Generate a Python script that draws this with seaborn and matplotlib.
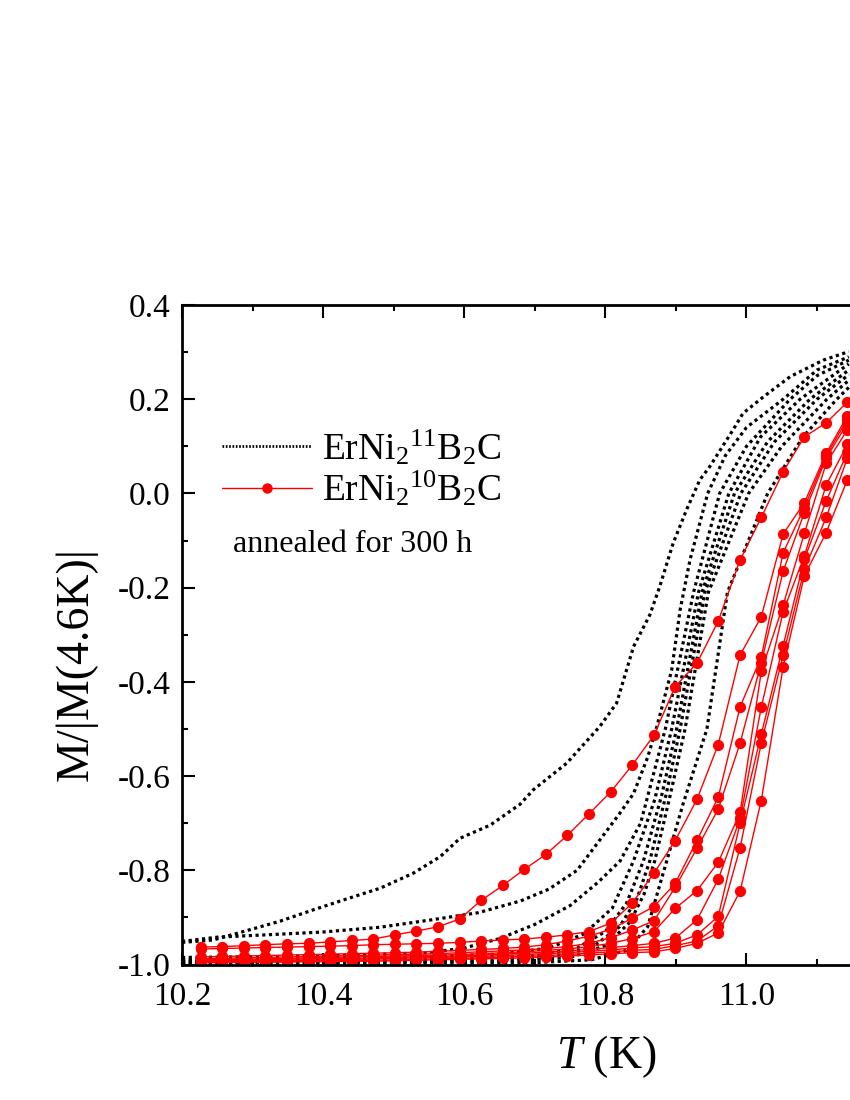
import numpy as np
import pandas as pd
import seaborn as sns
import matplotlib.pyplot as plt
from matplotlib.lines import Line2D
from matplotlib.ticker import MultipleLocator, FuncFormatter

sns.set_theme(style="white")
plt.rcParams['font.family'] = ['Liberation Serif', 'DejaVu Serif']
plt.rcParams['mathtext.fontset'] = 'custom'
plt.rcParams['mathtext.rm'] = 'Liberation Serif'
plt.rcParams['mathtext.it'] = 'Liberation Serif:italic'
plt.rcParams['mathtext.default'] = 'regular'
plt.rcParams['axes.unicode_minus'] = False
for k in ['text.color', 'axes.labelcolor', 'xtick.color', 'ytick.color', 'axes.edgecolor']:
    plt.rcParams[k] = 'black'

# ErNi2 10B2C, annealed 300 h (red, with symbols) - shared temperature grid
T_red = [10.227, 10.257, 10.288, 10.318, 10.349, 10.380, 10.410, 10.441, 10.471, 10.502,
         10.532, 10.563, 10.594, 10.624, 10.655, 10.685, 10.716, 10.746, 10.777, 10.808,
         10.838, 10.869, 10.899, 10.930, 10.960, 10.991, 11.021, 11.052, 11.082, 11.113, 11.143]

R1 = [-0.963, -0.962, -0.960, -0.958, -0.956, -0.955, -0.952, -0.949, -0.946, -0.937,
      -0.929, -0.920, -0.903, -0.864, -0.832, -0.798, -0.766, -0.726, -0.680, -0.633,
      -0.577, -0.513, -0.410, -0.360, -0.271, -0.141, -0.051, 0.046, 0.120, 0.150, 0.194]
R2 = [-0.967, -0.966, -0.965, -0.964, -0.963, -0.962, -0.961, -0.960, -0.958, -0.957,
      -0.956, -0.955, -0.953, -0.950, -0.948, -0.946, -0.942, -0.937, -0.930, -0.912,
      -0.870, -0.806, -0.737, -0.649, -0.533, -0.343, -0.262, -0.086, -0.020, 0.085, 0.165]
R3 = [-0.984, -0.983, -0.982, -0.981, -0.980, -0.979, -0.978, -0.977, -0.976, -0.975,
      -0.974, -0.972, -0.970, -0.968, -0.966, -0.963, -0.958, -0.950, -0.940, -0.925,
      -0.902, -0.877, -0.828, -0.736, -0.645, -0.453, -0.347, -0.126, -0.030, 0.080, 0.158]
R4 = [-0.988, -0.987, -0.986, -0.985, -0.984, -0.983, -0.982, -0.981, -0.980, -0.979,
      -0.978, -0.977, -0.975, -0.973, -0.971, -0.969, -0.966, -0.962, -0.955, -0.943,
      -0.927, -0.907, -0.836, -0.753, -0.670, -0.530, -0.359, -0.165, -0.041, 0.075, 0.149]
R5 = [-0.990, -0.989, -0.989, -0.988, -0.987, -0.986, -0.985, -0.984, -0.983, -0.982,
      -0.981, -0.980, -0.979, -0.977, -0.975, -0.973, -0.970, -0.967, -0.962, -0.955,
      -0.945, -0.930, -0.881, -0.843, -0.783, -0.677, -0.378, -0.237, -0.085, 0.064, 0.135]
R6 = [-0.992, -0.991, -0.991, -0.990, -0.989, -0.988, -0.988, -0.987, -0.986, -0.985,
      -0.984, -0.983, -0.982, -0.980, -0.978, -0.976, -0.974, -0.971, -0.968, -0.964,
      -0.960, -0.955, -0.944, -0.905, -0.819, -0.690, -0.454, -0.251, -0.133, 0.018, 0.104]
R7 = [-0.994, -0.993, -0.993, -0.992, -0.991, -0.991, -0.990, -0.989, -0.988, -0.987,
      -0.986, -0.985, -0.984, -0.983, -0.981, -0.979, -0.977, -0.975, -0.972, -0.969,
      -0.965, -0.962, -0.955, -0.937, -0.898, -0.700, -0.511, -0.323, -0.140, -0.016, 0.087]
R8 = [-0.995, -0.995, -0.994, -0.994, -0.993, -0.993, -0.992, -0.991, -0.991, -0.990,
      -0.989, -0.988, -0.987, -0.986, -0.984, -0.983, -0.981, -0.979, -0.976, -0.973,
      -0.970, -0.968, -0.960, -0.950, -0.918, -0.752, -0.530, -0.343, -0.161, -0.051, 0.075]
R9 = [-0.996, -0.996, -0.995, -0.995, -0.995, -0.994, -0.994, -0.993, -0.993, -0.992,
      -0.991, -0.990, -0.989, -0.988, -0.987, -0.986, -0.984, -0.982, -0.980, -0.977,
      -0.975, -0.973, -0.966, -0.955, -0.933, -0.844, -0.652, -0.368, -0.175, -0.083, 0.029]
red_runs = [R1, R2, R3, R4, R5, R6, R7, R8, R9]

# ErNi2 11B2C (black dotted)
K1_T = [10.200, 10.244, 10.292, 10.339, 10.386, 10.433, 10.481, 10.528, 10.566, 10.594,
        10.637, 10.679, 10.698, 10.745, 10.792, 10.816, 10.840, 10.863, 10.877, 10.896,
        10.915, 10.934, 10.948, 10.981, 10.995, 11.024, 11.062, 11.109, 11.145]
K1_M = [-0.953, -0.948, -0.928, -0.908, -0.884, -0.861, -0.838, -0.806, -0.771, -0.732,
        -0.704, -0.660, -0.629, -0.573, -0.495, -0.445, -0.325, -0.258, -0.198, -0.106,
        -0.035, 0.029, 0.057, 0.135, 0.170, 0.205, 0.248, 0.283, 0.301]
K2_T = [10.200, 10.250, 10.320, 10.400, 10.480, 10.550, 10.620, 10.680, 10.720, 10.760,
        10.792, 10.820, 10.840, 10.860, 10.873, 10.894, 10.906, 10.920, 10.945, 10.970,
        11.000, 11.052, 11.100, 11.145]
K2_M = [-0.951, -0.942, -0.937, -0.931, -0.921, -0.906, -0.890, -0.865, -0.840, -0.800,
        -0.736, -0.680, -0.637, -0.560, -0.495, -0.375, -0.247, -0.141, 0.000, 0.080,
        0.140, 0.200, 0.262, 0.290]
K3_T = [10.200, 10.350, 10.450, 10.550, 10.600, 10.650, 10.700, 10.750, 10.790, 10.821,
        10.850, 10.885, 10.925, 10.962, 11.000, 11.062, 11.100, 11.145]
K3_M = [-0.985, -0.983, -0.980, -0.975, -0.965, -0.945, -0.915, -0.875, -0.825, -0.780,
        -0.700, -0.500, -0.210, 0.000, 0.100, 0.200, 0.250, 0.283]
K4_T = [10.200, 10.500, 10.650, 10.720, 10.770, 10.810, 10.840, 10.870, 10.894, 10.932,
        10.975, 11.020, 11.076, 11.145]
K4_M = [-0.990, -0.986, -0.978, -0.965, -0.935, -0.880, -0.780, -0.650, -0.500, -0.210,
        0.000, 0.120, 0.200, 0.275]
K5_T = [10.200, 10.550, 10.700, 10.760, 10.800, 10.830, 10.854, 10.880, 10.901, 10.937,
        10.983, 11.030, 11.090, 11.145]
K5_M = [-0.993, -0.990, -0.982, -0.965, -0.930, -0.870, -0.780, -0.640, -0.500, -0.210,
        0.000, 0.110, 0.200, 0.262]
K6_T = [10.200, 10.600, 10.720, 10.780, 10.820, 10.845, 10.863, 10.886, 10.906, 10.941,
        10.992, 11.040, 11.100, 11.145]
K6_M = [-0.995, -0.992, -0.985, -0.965, -0.920, -0.860, -0.780, -0.640, -0.500, -0.210,
        0.000, 0.110, 0.200, 0.252]
K7_T = [10.200, 10.650, 10.750, 10.800, 10.835, 10.855, 10.870, 10.892, 10.913, 10.946,
        11.003, 11.050, 11.114, 11.145]
K7_M = [-0.997, -0.994, -0.985, -0.960, -0.910, -0.850, -0.780, -0.640, -0.500, -0.210,
        0.000, 0.100, 0.200, 0.240]
K8_T = [10.200, 10.700, 10.780, 10.830, 10.860, 10.887, 10.910, 10.944, 10.973, 11.030,
        11.080, 11.128, 11.145]
K8_M = [-0.999, -0.996, -0.990, -0.970, -0.920, -0.780, -0.660, -0.500, -0.210, 0.000,
        0.120, 0.200, 0.225]
black_runs = [(K1_T, K1_M), (K2_T, K2_M), (K3_T, K3_M), (K4_T, K4_M),
              (K5_T, K5_M), (K6_T, K6_M), (K7_T, K7_M), (K8_T, K8_M)]

W, H = 850, 1100
fig = plt.figure(figsize=(W / 100, H / 100), dpi=100)
# axes runs past the right border, as in the cropped original
ax = fig.add_axes([182 / W, 135.5 / H, 846.7 / W, 659.5 / H])

dot_style = (0, (1, 1.1))
for t, m in black_runs:
    sns.lineplot(x=t, y=m, ax=ax, color='black', lw=2.3, linestyle=dot_style,
                 sort=False, estimator=None, legend=False)

for m in red_runs:
    sns.lineplot(x=T_red, y=m, ax=ax, color='#ff0000', lw=1.0, marker='o',
                 markersize=7.3, markeredgecolor='#ff0000', markerfacecolor='#ff0000',
                 sort=False, estimator=None, legend=False)

ax.set_xlim(10.2, 11.4)
ax.set_ylim(-1.0, 0.4)
ax.xaxis.set_major_locator(MultipleLocator(0.2))
ax.xaxis.set_minor_locator(MultipleLocator(0.1))
ax.yaxis.set_major_locator(MultipleLocator(0.2))
ax.yaxis.set_minor_locator(MultipleLocator(0.1))
# labels past the crop edge are not shown in the original
ax.xaxis.set_major_formatter(FuncFormatter(lambda v, p: '%.1f' % v if v < 11.1 else ''))
ax.yaxis.set_major_formatter(FuncFormatter(lambda v, p: '%.1f' % v))
ax.tick_params(which='both', direction='in', top=True, right=True,
               bottom=True, left=True, width=1.5, color='black')
ax.tick_params(which='major', length=9, labelsize=24)
ax.tick_params(axis='x', which='major', pad=12)
ax.tick_params(axis='y', which='major', pad=8)
ax.tick_params(which='minor', length=4.5)
for s in ax.spines.values():
    s.set_linewidth(2.0)
    s.set_color('black')

ax.set_xlabel(r'$\mathit{T}$ (K)', fontsize=33)
ax.set_ylabel('M/|M(4.6K)|', fontsize=33)
ax.xaxis.label.set_va('center')
ax.yaxis.label.set_va('center')
ax.xaxis.set_label_coords(0.5008, -0.140)
ax.yaxis.set_label_coords(-0.125, 0.4557)

handles = [
    Line2D([], [], color='black', lw=2.0, linestyle=(0, (0.6, 0.6))),
    Line2D([], [], color='#ff0000', lw=1.0, marker='o', markersize=6.5),
]
labels = [r'ErNi$_2$$^{11}$B$_2$C', r'ErNi$_2$$^{10}$B$_2$C']
ax.legend(handles, labels, loc='upper left', bbox_to_anchor=(222 / W, 1 - 428 / H),
          bbox_transform=fig.transFigure, frameon=False, fontsize=27,
          handlelength=2.4, handletextpad=0.28, labelspacing=0.05,
          borderpad=0, borderaxespad=0)
ax.text(233 / W, 1 - 545 / H, 'annealed for 300 h', transform=fig.transFigure,
        fontsize=23, va='center', ha='left')

fig.savefig('out.png', dpi=100)
